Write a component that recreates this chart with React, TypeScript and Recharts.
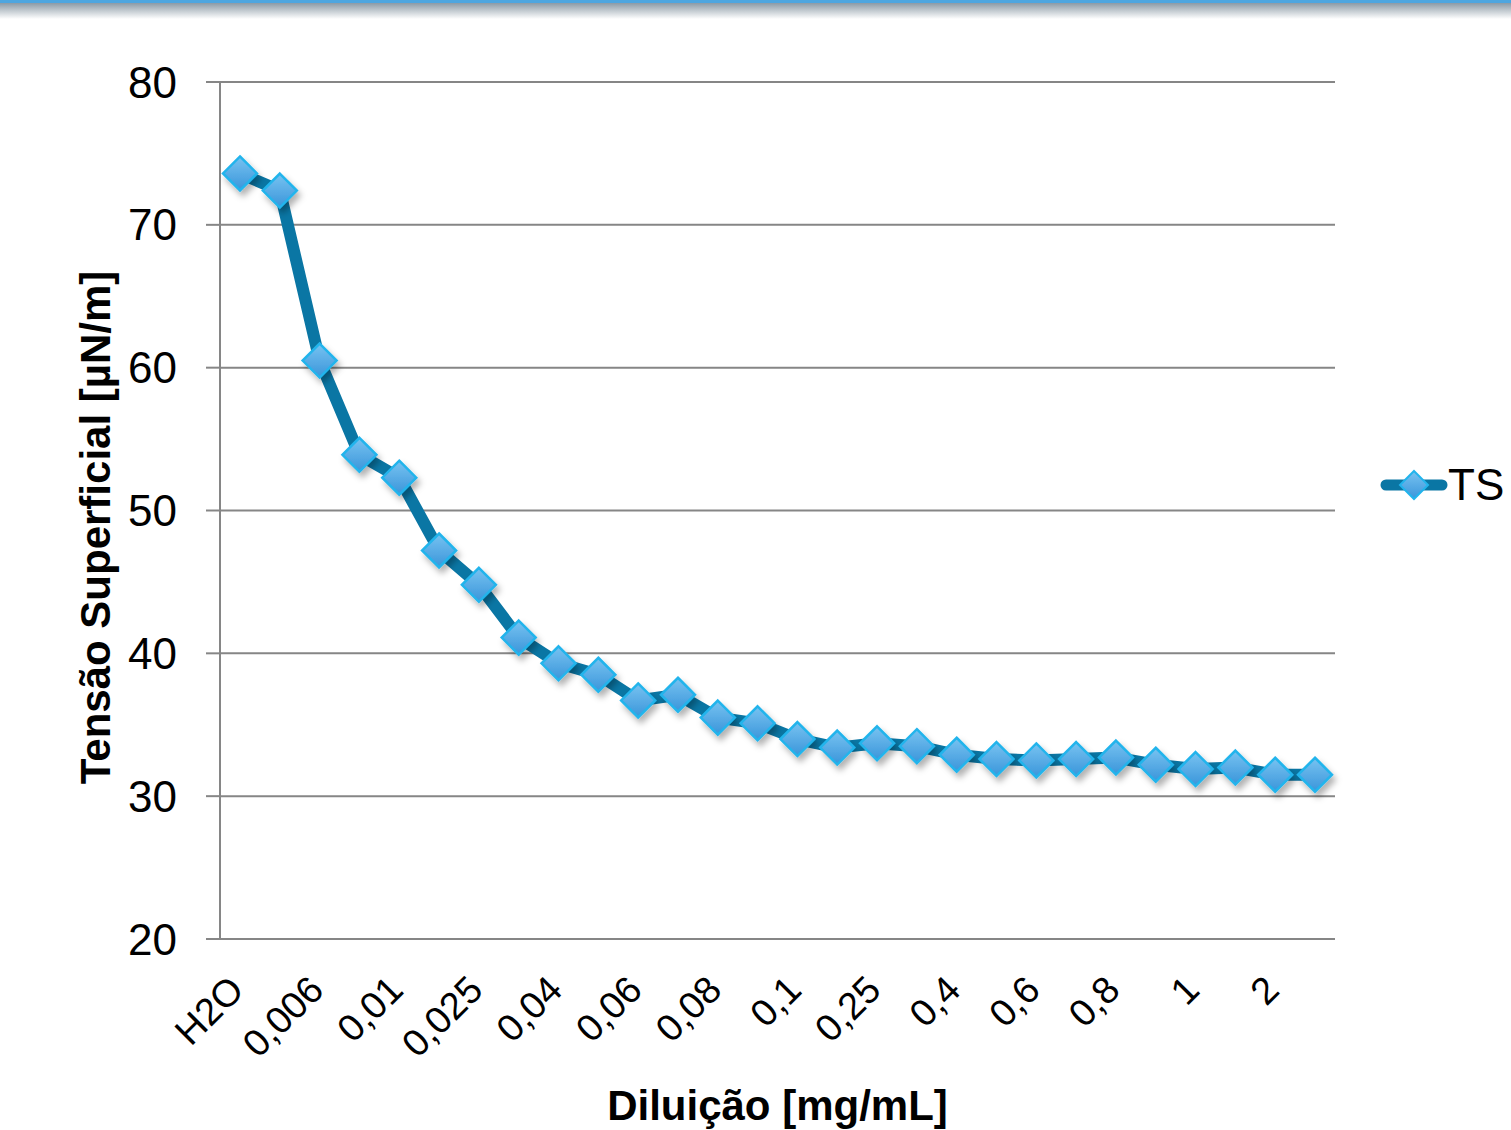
import React from 'react'
import { LineChart, Line, XAxis, YAxis, CartesianGrid, Legend } from 'recharts'

// dilution steps (only every other one is labelled on the axis)
const categories = [
  'H2O', '0,005', '0,006', '0,008', '0,01', '0,02', '0,025', '0,03', '0,04', '0,05',
  '0,06', '0,07', '0,08', '0,09', '0,1', '0,2', '0,25', '0,3', '0,4', '0,5',
  '0,6', '0,7', '0,8', '0,9', '1', '1,5', '2', '2,5',
]

// surface tension readings
const tsValues = [
  73.6, 72.4, 60.5, 53.9, 52.3, 47.2, 44.8, 41.1, 39.3, 38.5,
  36.7, 37.1, 35.5, 35.1, 34.0, 33.4, 33.7, 33.5, 32.9, 32.6,
  32.5, 32.6, 32.7, 32.2, 31.9, 32.0, 31.5, 31.5,
]

const yTicks = [20, 30, 40, 50, 60, 70, 80]

const data = categories.map((name, i) => ({ name, TS: tsValues[i] }))

const FONT = 'Arial, "Liberation Sans", Helvetica, sans-serif'
const LINE = '#0a76a4'
const GRID = '#868686'

const diamondPath = (cx: number, cy: number, r: number) =>
  `M${cx},${cy - r}L${cx + r},${cy}L${cx},${cy + r}L${cx - r},${cy}Z`

const Diamond = (props: any) => {
  const { cx, cy, index } = props
  if (cx == null || cy == null) return null
  return (
    <path
      key={`d-${index}`}
      d={diamondPath(cx, cy, 17)}
      fill="url(#tsFill)"
      stroke="#22b4ec"
      strokeWidth={2.5}
      filter="url(#tsShadow)"
    />
  )
}

const XTick = (props: any) => {
  const { x, y, payload } = props
  const px = x + 6
  const py = y + 45
  return (
    <text
      x={px}
      y={py}
      transform={`rotate(-45 ${px} ${py})`}
      textAnchor="end"
      fontSize={38}
      fontFamily={FONT}
      fill="#000"
    >
      {payload.value}
    </text>
  )
}

const LegendContent = () => (
  <div style={{ display: 'flex', alignItems: 'center', fontFamily: FONT, fontSize: 44, color: '#000' }}>
    <svg width={68} height={40} style={{ display: 'block' }}>
      <line x1={6} y1={20} x2={62} y2={20} stroke={LINE} strokeWidth={11} strokeLinecap="round" />
      <path d={diamondPath(34, 20, 14)} fill="url(#tsFill)" stroke="#22b4ec" strokeWidth={2} />
    </svg>
    <span style={{ lineHeight: '44px' }}>TS</span>
  </div>
)

export default function App() {
  return (
    <div style={{ position: 'absolute', left: 0, top: 0, width: 1511, height: 1130, background: '#fff', overflow: 'hidden' }}>
      <div style={{ position: 'absolute', left: 0, top: 0, width: 1511, height: 3, background: '#4ea6e0' }} />
      <div style={{ position: 'absolute', left: 0, top: 3, width: 1511, height: 16, background: 'linear-gradient(#8b9aa6, #ffffff)' }} />
      <LineChart width={1511} height={1130} data={data} margin={{ top: 82, right: 176, bottom: 0, left: 0 }}>
        <defs>
          <linearGradient id="tsFill" x1="0" y1="0" x2="0" y2="1">
            <stop offset="0%" stopColor="#78c3f1" />
            <stop offset="100%" stopColor="#3a95da" />
          </linearGradient>
          <filter id="tsShadow" x="-50%" y="-50%" width="200%" height="200%">
            <feDropShadow dx={3} dy={5} stdDeviation={3} floodColor="#000" floodOpacity={0.3} />
          </filter>
        </defs>
        <CartesianGrid vertical={false} stroke={GRID} strokeWidth={2} />
        <XAxis
          dataKey="name"
          interval={1}
          padding={{ left: 20, right: 20 }}
          tickLine={false}
          axisLine={{ stroke: GRID, strokeWidth: 2 }}
          height={191}
          tick={<XTick />}
          label={{
            content: (p: any) => {
              const vb = p.viewBox
              return (
                <text x={vb.x + vb.width / 2} y={vb.y + 181} textAnchor="middle" fontSize={42} fontWeight="bold" fontFamily={FONT} fill="#000">
                  Diluição [mg/mL]
                </text>
              )
            },
          }}
        />
        <YAxis
          domain={[20, 80]}
          ticks={yTicks}
          width={220}
          tickSize={14}
          tickMargin={29}
          tickLine={{ stroke: GRID, strokeWidth: 2 }}
          axisLine={{ stroke: GRID, strokeWidth: 2 }}
          tick={{ fontSize: 44, fill: '#000', fontFamily: FONT }}
          label={{
            content: (p: any) => {
              const vb = p.viewBox
              const lx = vb.x + 110
              const ly = vb.y + vb.height / 2 + 17
              return (
                <text x={lx} y={ly} transform={`rotate(-90 ${lx} ${ly})`} textAnchor="middle" fontSize={42} fontWeight="bold" fontFamily={FONT} fill="#000">
                  Tensão Superficial [µN/m]
                </text>
              )
            },
          }}
        />
        <Legend
          layout="vertical"
          align="center"
          verticalAlign="middle"
          wrapperStyle={{ left: 1380, top: 463, width: 131 }}
          content={<LegendContent />}
        />
        <Line
          type="linear"
          dataKey="TS"
          name="TS"
          stroke={LINE}
          strokeWidth={12}
          strokeLinejoin="round"
          dot={<Diamond />}
          activeDot={false}
          isAnimationActive={false}
        />
      </LineChart>
    </div>
  )
}
